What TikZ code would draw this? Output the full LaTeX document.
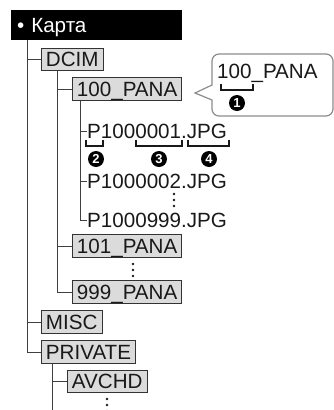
\documentclass[tikz,border=0pt]{standalone}
\usepackage{fontspec}
\setmainfont{Liberation Sans}
\usetikzlibrary{positioning}

\tikzset{
  card/.style={fill=black, text=white, anchor=north west, minimum width=171pt,
    minimum height=30pt, inner xsep=6pt, text width=159pt, align=left,
    font=\fontsize{20.6}{20.6}\selectfont, text height=14.7pt, text depth=0pt},
  folder/.style={draw=black!80, fill=black!14, line width=0.9pt, anchor=west,
    font=\fontsize{20.6}{20.6}\selectfont, text=black!90, text height=14.7pt,
    text depth=0pt, inner xsep=4.5pt, inner ysep=3.8pt},
  fname/.style={anchor=west, inner sep=0pt, font=\fontsize{20.6}{20.6}\selectfont,
    text=black!90, text height=14.7pt, text depth=0pt},
  branch/.style={draw=black!75, line width=0.9pt},
  bracket/.style={draw=black!90, line width=1.4pt},
  numdot/.style={circle, fill=black, text=white, inner sep=0pt, minimum size=16pt,
    font=\bfseries\fontsize{13}{13}\selectfont},
  vdots/.style={fill=black!90}
}

\begin{document}
\begin{tikzpicture}[x=1pt, y=-1pt]
\useasboundingbox (0,0) rectangle (334,410);

% Card and top level folders
\node[card] (card) at (11,10) {• Карта};
\node[folder] (dcim) at (41,59.5) {DCIM};
\node[folder] (misc) at (41,322) {MISC};
\node[folder] (private) at (41,352) {PRIVATE};

% Folders inside DCIM and PRIVATE
\node[folder] (p100) at (72,89) {100\_PANA};
\node[folder] (p101) at (72,246) {101\_PANA};
\node[folder] (p999) at (72,292) {999\_PANA};
\node[folder] (avchd) at (67,381.5) {AVCHD};

% Picture files
\node[fname] (f1) at (87,131) {P1000001.JPG};
\node[fname] (f2) at (87,181) {P1000002.JPG};
\node[fname] (f999) at (87,220) {P1000999.JPG};

% Tree lines
\coordinate (trunk) at ([xshift=16pt]card.south west);
\draw[branch] (trunk) |- (private.west);
\draw[branch] (trunk |- dcim.west) -- (dcim.west);
\draw[branch] (trunk |- misc.west) -- (misc.west);

\coordinate (dtrunk) at ([xshift=16pt]dcim.south west);
\draw[branch] (dtrunk) |- (p999.west);
\draw[branch] (dtrunk |- p100.west) -- (p100.west);
\draw[branch] (dtrunk |- p101.west) -- (p101.west);

\coordinate (ftrunk) at ([xshift=8pt]p100.south west);
\draw[branch] (ftrunk) |- (f999.west);
\draw[branch] (ftrunk |- f1.west) -- (f1.west);
\draw[branch] (ftrunk |- f2.west) -- (f2.west);

\coordinate (ptrunk) at ([xshift=11pt]private.south west);
\coordinate (pend) at (ptrunk |- 0,410);
\draw[branch] (ptrunk) -- (pend);
\draw[branch] (ptrunk |- avchd.west) -- (avchd.west);

% Omitted entries
\foreach \y in {0,6,12} {
  \fill[vdots] (174,194+\y) circle (1.4pt);
  \fill[vdots] (133,264+\y) circle (1.4pt);
  \fill[vdots] (107,399+\y) circle (1.4pt);
}

% Name parts of the file
\draw[bracket] (86,140) -- (86,146) -- (103,146) -- (103,140);
\draw[bracket] (136,140) -- (136,146) -- (182,146) -- (182,140);
\draw[bracket] (188,140) -- (188,146) -- (229,146) -- (229,140);
\node[numdot] (n2) at (96,159) {2};
\node[numdot] (n3) at (159,159) {3};
\node[numdot] (n4) at (209,159) {4};

% Callout for the folder name
\draw[draw=black!45, line width=1.2pt, fill=white]
  (212,85) [rounded corners=7pt] -- (212,54) -- (333,54) -- (333,116) -- (212,116)
  [sharp corners] -- (212,100) -- (195,93) -- cycle;
\node[fname] (cname) at (217,71.5) {100\_PANA};
\draw[bracket] (221,84) -- (221,90) -- (253,90) -- (253,84);
\node[numdot] (n1) at (237,103) {1};

\end{tikzpicture}
\end{document}
